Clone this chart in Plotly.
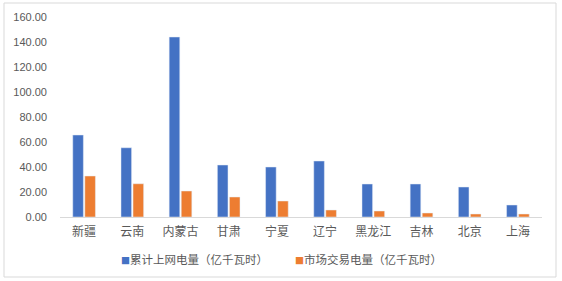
import plotly.graph_objects as go

categories = ["新疆", "云南", "内蒙古", "甘肃", "宁夏", "辽宁", "黑龙江", "吉林", "北京", "上海"]
grid_power = [65.6, 55.4, 144.0, 41.6, 40.0, 44.8, 26.4, 26.4, 24.0, 9.6]
market_power = [32.8, 26.6, 20.8, 16.0, 12.8, 5.6, 4.8, 3.2, 2.4, 2.4]
series_names = ["累计上网电量（亿千瓦时）", "市场交易电量（亿千瓦时）"]
colors = ["#4472C4", "#ED7D31"]

W, H = 562, 281
ml, mr, mt, mb = 60, 20, 17, 64
pw, ph = W - ml - mr, H - mt - mb

font = "Noto Sans CJK SC, Microsoft YaHei, sans-serif"

fig = go.Figure()
fig.add_trace(go.Bar(x=categories, y=grid_power, name=series_names[0],
                     marker_color=colors[0], showlegend=False))
fig.add_trace(go.Bar(x=categories, y=market_power, name=series_names[1],
                     marker_color=colors[1], showlegend=False))

def px_x(x):
    return (x - ml) / pw

def px_y(y):
    return (H - mb - y) / ph

fig.update_layout(
    width=W, height=H,
    margin=dict(l=ml, r=mr, t=mt, b=mb),
    paper_bgcolor="white", plot_bgcolor="white",
    barmode="group", bargap=0.5, bargroupgap=0.12,
    font=dict(family=font, color="#595959", size=11),
    xaxis=dict(showgrid=False, showline=True, linecolor="#D9D9D9", linewidth=1,
               tickfont=dict(size=12, color="#595959"), ticks="",
               ticklabelstandoff=4),
    yaxis=dict(range=[0, 160], dtick=20, tickformat=".2f", showgrid=False,
               zeroline=False, showline=False, ticks="",
               tickfont=dict(family="Liberation Sans, Arial, sans-serif", size=11, color="#595959"),
               ticklabelstandoff=12),
    shapes=[dict(type="rect", xref="paper", yref="paper",
                 x0=px_x(4), x1=px_x(556), y0=px_y(277), y1=px_y(3),
                 line=dict(color="#D9D9D9", width=1), fillcolor="rgba(0,0,0,0)",
                 layer="below")],
    annotations=[
        dict(xref="paper", yref="paper", x=px_x(119), y=px_y(259), xanchor="left", yanchor="middle",
             showarrow=False, font=dict(size=11.5, color="#595959", family=font),
             text=f"<span style='color:{colors[0]};font-size:9px'>■</span>{series_names[0]}"),
        dict(xref="paper", yref="paper", x=px_x(293), y=px_y(259), xanchor="left", yanchor="middle",
             showarrow=False, font=dict(size=11.5, color="#595959", family=font),
             text=f"<span style='color:{colors[1]};font-size:9px'>■</span>{series_names[1]}"),
    ],
)

fig.write_html("out.html")
